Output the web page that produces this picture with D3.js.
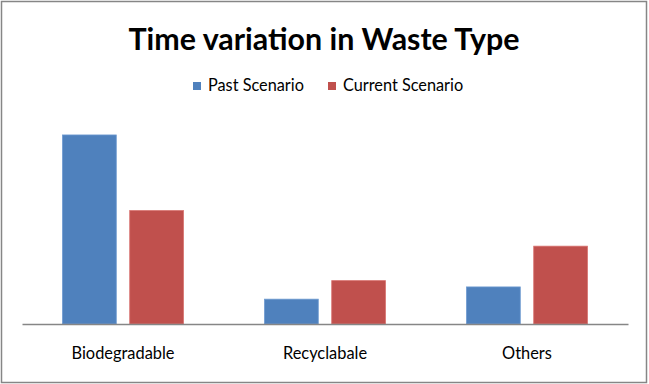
<!DOCTYPE html>
<html>
<head>
<meta charset="utf-8">
<script src="https://cdn.jsdelivr.net/npm/d3@7.9.0/dist/d3.min.js"></script>
<style>
  body { margin: 0; background: #fff; }
  svg { display: block; font-family: Lato, "Open Sans", sans-serif; }
</style>
</head>
<body>
<svg id="chart" width="649" height="384"></svg>
<script>
// data
const categories = ['Biodegradable', 'Recyclabale', 'Others'];
const seriesNames = ['Past Scenario', 'Current Scenario'];
const pastValues = [51, 6.7, 10];
const currentValues = [30.6, 11.7, 21];
const colors = ['#4F81BD', '#C0504D'];
const edgeColors = ['#6E9AD0', '#D87370'];

const svg = d3.select('#chart');

// outer frame
svg.append('rect')
  .attr('x', 1.5).attr('y', 1.5)
  .attr('width', 645).attr('height', 381)
  .attr('fill', '#fff')
  .attr('stroke', '#868686')
  .attr('stroke-width', 1.5);

// title
svg.append('text')
  .attr('x', 324).attr('y', 50)
  .attr('text-anchor', 'middle')
  .attr('font-weight', 'bold')
  .attr('font-size', 31)
  .attr('textLength', 391)
  .attr('lengthAdjust', 'spacingAndGlyphs')
  .text('Time variation in Waste Type');

// scales
const x0 = d3.scaleBand().domain(categories).range([22, 628]);
const x1 = d3.scaleBand().domain(seriesNames).range([0, 121]).paddingInner(0.2);
const y = d3.scaleLinear().domain([0, 60]).range([324, 101.6]);

const rows = categories.map((c, i) => ({ cat: c, vals: [pastValues[i], currentValues[i]] }));

const groups = svg.append('g').selectAll('g')
  .data(rows)
  .join('g')
  .attr('transform', d => `translate(${x0(d.cat) + (x0.bandwidth() - 121) / 2},0)`);

groups.selectAll('rect')
  .data(d => d.vals.map((v, j) => ({ v, j })))
  .join('rect')
  .attr('x', d => x1(seriesNames[d.j]))
  .attr('y', d => y(d.v))
  .attr('width', x1.bandwidth())
  .attr('height', d => y(0) - y(d.v))
  .attr('fill', d => colors[d.j])
  .attr('stroke', d => edgeColors[d.j])
  .attr('stroke-width', 0.8);

// category axis
const xAxis = svg.append('g')
  .attr('transform', `translate(0,${y(0)})`)
  .call(d3.axisBottom(x0).tickSize(0).tickPadding(0));
xAxis.select('.domain').attr('stroke', '#868686').attr('stroke-width', 1.5);
xAxis.selectAll('text')
  .attr('font-family', 'Lato, "Open Sans", sans-serif')
  .attr('font-size', 16.4)
  .attr('fill', '#000')
  .attr('dy', 0)
  .attr('y', 35);

// legend
const legendX = [193, 328];
const legend = svg.append('g').selectAll('g')
  .data(seriesNames)
  .join('g')
  .attr('transform', (d, i) => `translate(${legendX[i]},82)`);
legend.append('rect')
  .attr('width', 8).attr('height', 8)
  .attr('fill', (d, i) => colors[i]);
legend.append('text')
  .attr('x', 15).attr('y', 9)
  .attr('font-size', 16.3)
  .text(d => d);
</script>
</body>
</html>
